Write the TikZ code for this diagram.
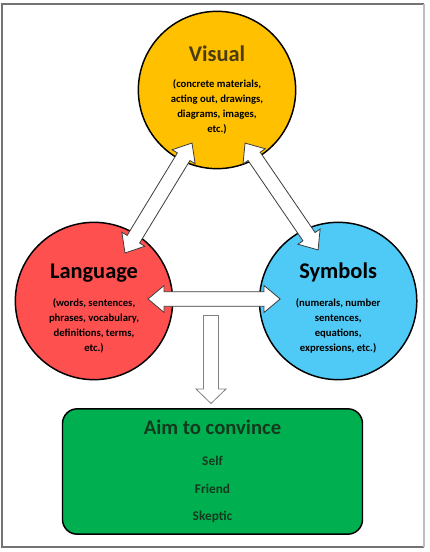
\documentclass[tikz,border=0pt]{standalone}
\usepackage{fontspec}
\setmainfont{Carlito}
\usetikzlibrary{shapes.arrows,calc,positioning}

\definecolor{visfill}{HTML}{FFC000}
\definecolor{langfill}{HTML}{FF5050}
\definecolor{symfill}{HTML}{4FC9F5}
\definecolor{aimfill}{HTML}{00B050}
\definecolor{vistext}{HTML}{4A3C0C}
\definecolor{aimtext}{HTML}{143A1E}
\definecolor{framegray}{HTML}{737373}
\definecolor{framelight}{HTML}{BDBDBD}
\definecolor{arrowgray}{HTML}{3C3C3C}

\newcommand\ttlfont{\fontsize{16.8}{18}\selectfont}
\newcommand\bodyfont{\fontsize{8}{11.25}\selectfont}

% two-headed block arrow between two points
\newcommand\dblink[2]{%
  \path let \p1=($(#2)-(#1)$) in
    node[dblarr, rotate={atan2(\y1,\x1)}, minimum height={veclen(\x1,\y1)}]
      at ($(#1)!0.5!(#2)$) {};}

\begin{document}
\begin{tikzpicture}[
  x=0.75pt, y=-0.75pt,
  topic/.style={circle, draw, line width=1.1pt, minimum size=118pt, inner sep=0pt, align=center,
    font=\bfseries\bodyfont},
  aimbox/.style={draw, line width=1.1pt, rounded corners=11pt, minimum width=225pt, minimum height=94pt,
    align=center, font=\bfseries\fontsize{10}{20.6}\selectfont},
  dblarr/.style={double arrow, draw=arrowgray, fill=white, line width=0.6pt,
    inner xsep=0pt, inner ysep=5.2pt, double arrow head extend=4.6pt, double arrow tip angle=80},
  sglarr/.style={single arrow, draw=gray, fill=white, line width=0.6pt,
    inner xsep=0pt, inner ysep=5.3pt, single arrow head extend=5.6pt, single arrow tip angle=92}
]
  \useasboundingbox (0,0) rectangle (429,552);
  \draw[framegray, line width=1.1pt] (424,4) -- (2,4) -- (2,547) -- (424,547);
  \draw[framelight, line width=1.1pt] (424,4) -- (424,547);

  \node[topic, fill=visfill] (vis) at (217,90) {
    \textcolor{vistext}{\ttlfont Visual}\\[8.5pt]
    (concrete materials,\\acting out, drawings,\\diagrams, images,\\etc.)
  };
  \node[topic, fill=langfill] (lang) at (94,301) {
    {\ttlfont\rule{0pt}{22pt}Language}\\[9.5pt]
    (words, sentences,\\phrases, vocabulary,\\definitions, terms,\\etc.)
  };
  \node[topic, fill=symfill, right=64pt of lang] (sym) {
    {\ttlfont\rule{0pt}{22pt}Symbols}\\[9.5pt]
    (numerals, number\\sentences,\\equations,\\expressions, etc.)
  };

  \node[aimbox, fill=aimfill, text=aimtext] (aim) at (212.5,471.5) {
    {\fontsize{15.5}{16}\selectfont Aim to convince}\\[2.5pt]
    Self\\Friend\\Skeptic
  };

  % links between the three circles
  \coordinate (visleft) at ($(vis.center)+(-25,53)$);
  \coordinate (langtop) at ($(lang.center)+(31,-48)$);
  \coordinate (visright) at ($(vis.center)+(28,53)$);
  \coordinate (symtop) at ($(sym.center)+(-20,-51)$);
  \coordinate (langmid) at ($(lang.center)+(54,-2)$);
  \coordinate (symmid) at ($(sym.center)+(-58,-2)$);
  \dblink{visleft}{langtop}
  \dblink{visright}{symtop}
  \dblink{langmid}{symmid}

  % down to the aim box
  \coordinate (downtail) at (211,315);
  \coordinate (downtip) at ($(aim.north)+(-1.5,-5)$);
  \path let \p1=($(downtip)-(downtail)$) in
    node[sglarr, anchor=tail, rotate={atan2(\y1,\x1)}, minimum height={veclen(\x1,\y1)}]
      at (downtail) {};
\end{tikzpicture}
\end{document}
